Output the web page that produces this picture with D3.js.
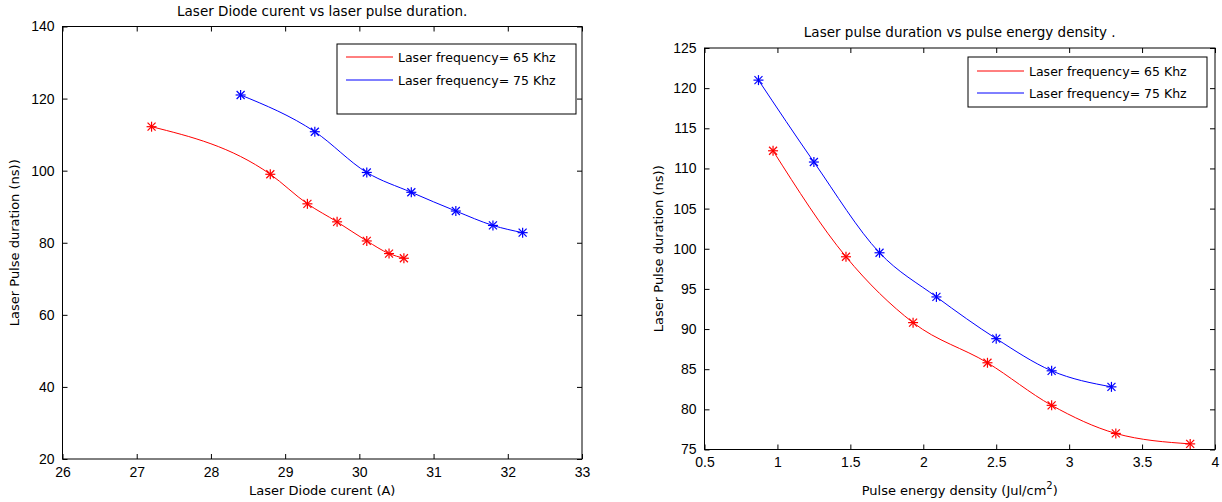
<!DOCTYPE html>
<html>
<head>
<meta charset="utf-8">
<script src="https://cdn.jsdelivr.net/npm/d3@7"></script>
<style>
  body { margin: 0; background: #fff; }
  svg { display: block; }
  text { font-family: "DejaVu Sans", sans-serif; fill: #000; }
  .tick text { font-family: "Liberation Sans", Arial, sans-serif; }
</style>
</head>
<body>
<svg id="chart" width="1222" height="502"></svg>
<script>
// ---- Data ----
const seriesNames = ["Laser frequency= 65 Khz", "Laser frequency= 75 Khz"];
const seriesColors = ["#ff0000", "#0000ff"];

// Left plot: diode current (A) vs pulse duration (ns)
const current65 = [27.2, 28.8, 29.3, 29.7, 30.1, 30.4, 30.6];
const duration65 = [112.2, 99.0, 90.8, 85.8, 80.5, 77.0, 75.7];
const current75 = [28.4, 29.4, 30.1, 30.7, 31.3, 31.8, 32.2];
const duration75 = [121.0, 110.8, 99.5, 94.0, 88.8, 84.8, 82.8];

// Right plot: energy density (Jul/cm2) vs pulse duration (ns)
const energy65 = [0.97, 1.47, 1.93, 2.44, 2.88, 3.32, 3.83];
const energy75 = [0.87, 1.25, 1.70, 2.09, 2.50, 2.88, 3.29];

const leftXTicks = [26, 27, 28, 29, 30, 31, 32, 33];
const leftYTicks = [20, 40, 60, 80, 100, 120, 140];
const rightXTicks = [0.5, 1, 1.5, 2, 2.5, 3, 3.5, 4];
const rightYTicks = [75, 80, 85, 90, 95, 100, 105, 110, 115, 120, 125];

const svg = d3.select("#chart");

function drawPanel(cfg) {
  const x = d3.scaleLinear().domain(cfg.xDomain).range([cfg.left, cfg.right]);
  const y = d3.scaleLinear().domain(cfg.yDomain).range([cfg.bottom, cfg.top]);
  const g = svg.append("g");
  const tl = 5;

  g.append("g").attr("transform", `translate(0,${cfg.bottom})`)
    .call(d3.axisBottom(x).tickValues(cfg.xTicks).tickSizeInner(-tl).tickSizeOuter(0).tickPadding(8).tickFormat(d3.format("")));
  g.append("g").attr("transform", `translate(0,${cfg.top})`)
    .call(d3.axisTop(x).tickValues(cfg.xTicks).tickSizeInner(-tl).tickSizeOuter(0).tickFormat(""));
  g.append("g").attr("transform", `translate(${cfg.left},0)`)
    .call(d3.axisLeft(y).tickValues(cfg.yTicks).tickSizeInner(-tl).tickSizeOuter(0).tickPadding(8).tickFormat(d3.format("")));
  g.append("g").attr("transform", `translate(${cfg.right},0)`)
    .call(d3.axisRight(y).tickValues(cfg.yTicks).tickSizeInner(-tl).tickSizeOuter(0).tickFormat(""));
  g.selectAll(".domain").remove();
  g.selectAll(".tick line").attr("stroke", "#000");
  g.selectAll(".tick text").attr("font-size", 14).attr("fill", "#000");

  g.append("rect").attr("x", cfg.left).attr("y", cfg.top)
    .attr("width", cfg.right - cfg.left).attr("height", cfg.bottom - cfg.top)
    .attr("fill", "none").attr("stroke", "#000").attr("stroke-width", 1);

  const line = d3.line().x(d => x(d[0])).y(d => y(d[1])).curve(d3.curveMonotoneX);
  cfg.series.forEach((s, i) => {
    const pts = s.xs.map((v, j) => [v, s.ys[j]]);
    g.append("path").datum(pts).attr("d", line)
      .attr("fill", "none").attr("stroke", seriesColors[i]).attr("stroke-width", 1);
    const r = 5, rd = 4;
    pts.forEach(p => {
      const cx = x(p[0]), cy = y(p[1]);
      const m = g.append("g").attr("stroke", seriesColors[i]).attr("stroke-width", 1.2);
      m.append("line").attr("x1", cx - r).attr("x2", cx + r).attr("y1", cy).attr("y2", cy);
      m.append("line").attr("x1", cx).attr("x2", cx).attr("y1", cy - r).attr("y2", cy + r);
      m.append("line").attr("x1", cx - rd).attr("x2", cx + rd).attr("y1", cy - rd).attr("y2", cy + rd);
      m.append("line").attr("x1", cx - rd).attr("x2", cx + rd).attr("y1", cy + rd).attr("y2", cy - rd);
    });
  });

  g.append("text").attr("x", (cfg.left + cfg.right) / 2).attr("y", cfg.top - 11)
    .attr("text-anchor", "middle").attr("font-size", 13.5).text(cfg.title);
  const xl = g.append("text").attr("x", (cfg.left + cfg.right) / 2).attr("y", 495)
    .attr("text-anchor", "middle").attr("font-size", 13);
  xl.text(cfg.xLabel);
  if (cfg.xSup) {
    xl.append("tspan").attr("dy", -6).attr("font-size", 10).text(cfg.xSup);
    xl.append("tspan").attr("dy", 6).text(")");
  }
  g.append("text").attr("transform", `translate(${cfg.left - cfg.yLabelOff},${(cfg.top + cfg.bottom) / 2}) rotate(-90)`)
    .attr("text-anchor", "middle").attr("font-size", 13).text(cfg.yLabel);

  const L = cfg.legend;
  g.append("rect").attr("x", L.x).attr("y", L.y).attr("width", L.w).attr("height", L.h)
    .attr("fill", "#fff").attr("stroke", "#000").attr("stroke-width", 1);
  seriesNames.forEach((n, i) => {
    const ly = L.y + L.first + i * L.step;
    g.append("line").attr("x1", L.x + 9).attr("x2", L.x + 56).attr("y1", ly).attr("y2", ly)
      .attr("stroke", seriesColors[i]).attr("stroke-width", 1);
    g.append("text").attr("x", L.x + 61).attr("y", ly + 5).attr("font-size", 12.5).text(n);
  });
}

drawPanel({
  left: 62.5, right: 582, top: 26.5, bottom: 459,
  xDomain: [26, 33], yDomain: [20, 140],
  xTicks: leftXTicks, yTicks: leftYTicks,
  title: "Laser Diode curent vs laser pulse duration.",
  xLabel: "Laser Diode curent (A)",
  yLabel: "Laser Pulse duration (ns))", yLabelOff: 44,
  series: [{ xs: current65, ys: duration65 }, { xs: current75, ys: duration75 }],
  legend: { x: 337, y: 44, w: 239, h: 70, first: 13, step: 23 }
});

drawPanel({
  left: 704.5, right: 1215, top: 48, bottom: 449.5,
  xDomain: [0.5, 4], yDomain: [75, 125],
  xTicks: rightXTicks, yTicks: rightYTicks,
  title: "Laser pulse duration vs pulse energy density .",
  xLabel: "Pulse energy density (Jul/cm", xSup: "2",
  yLabel: "Laser Pulse duration (ns))", yLabelOff: 42,
  series: [{ xs: energy65, ys: duration65 }, { xs: energy75, ys: duration75 }],
  legend: { x: 968, y: 57, w: 239, h: 50, first: 14, step: 22 }
});
</script>
</body>
</html>
